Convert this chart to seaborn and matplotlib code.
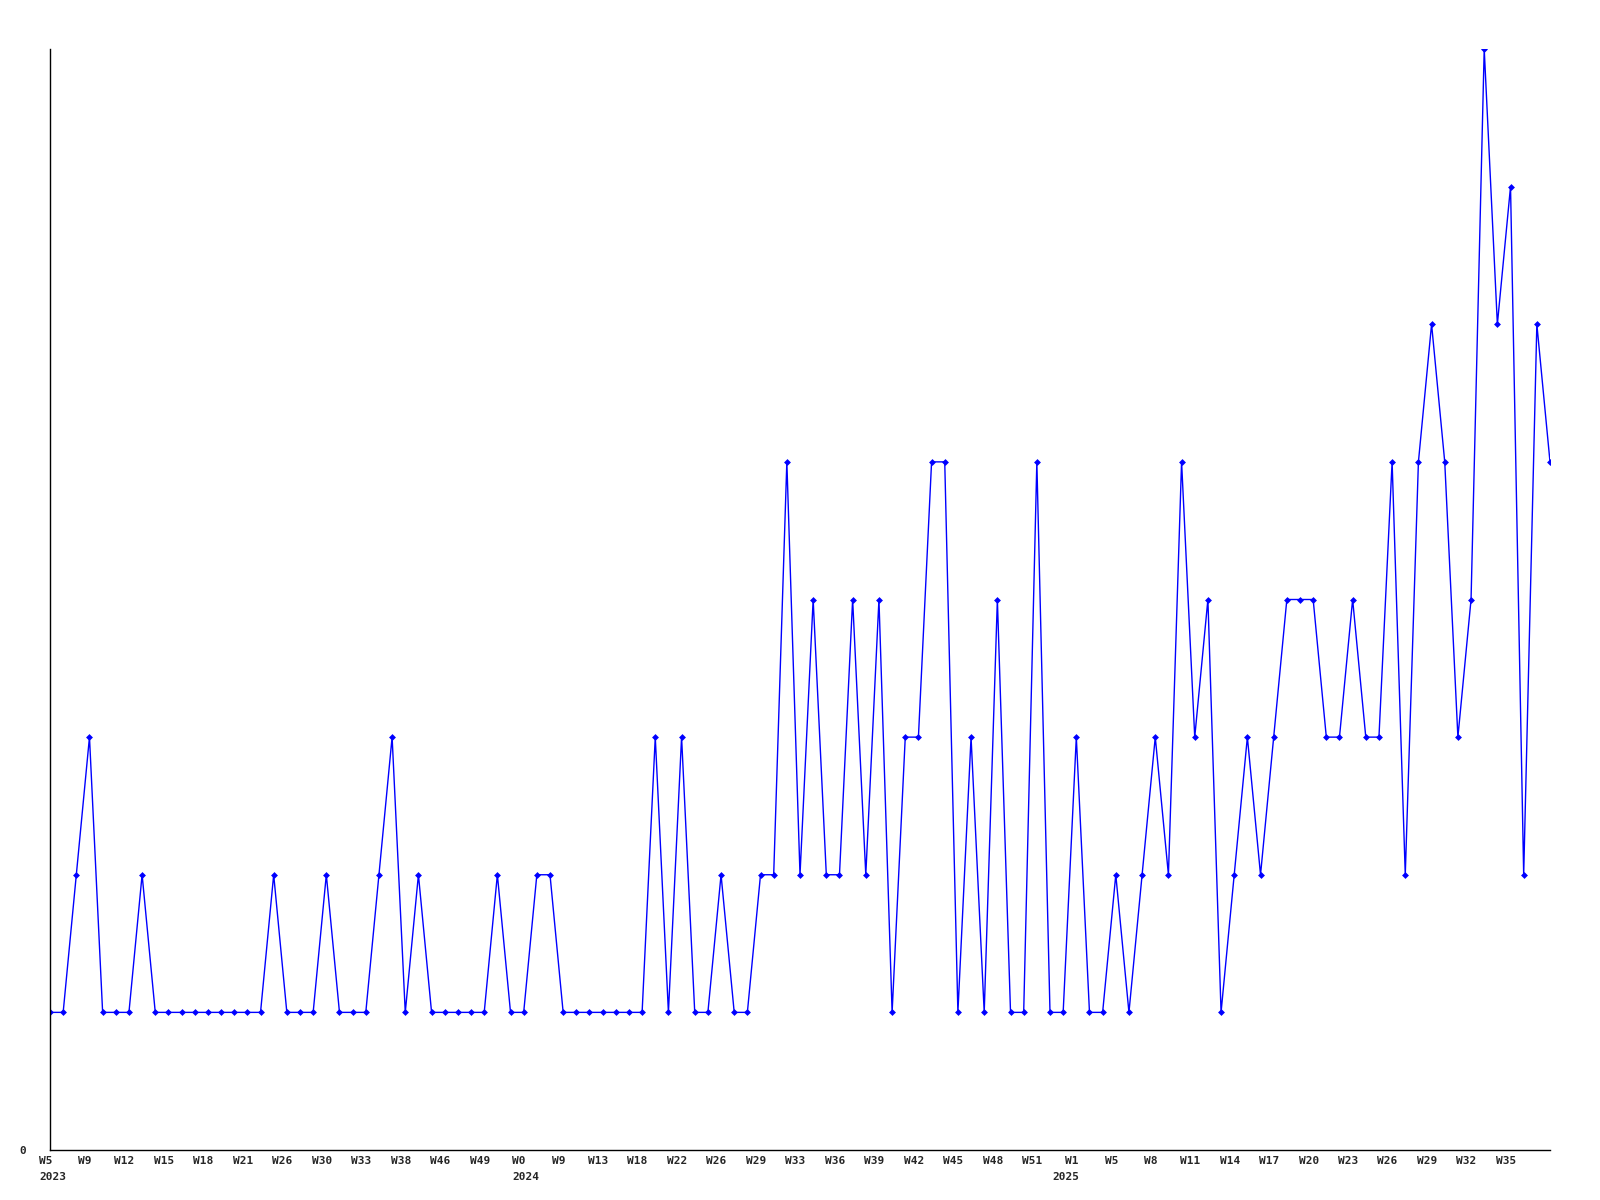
import numpy as np
import pandas as pd
import matplotlib
matplotlib.use('Agg')
import matplotlib.pyplot as plt
import matplotlib.transforms as mtransforms
import seaborn as sns

# weekly counts (one point per reported week)
counts = [1, 1, 2, 3, 1, 1, 1, 2, 1, 1, 1, 1, 1, 1, 1, 1, 1, 2, 1, 1,
          1, 2, 1, 1, 1, 2, 3, 1, 2, 1, 1, 1, 1, 1, 2, 1, 1, 2, 2, 1,
          1, 1, 1, 1, 1, 1, 3, 1, 3, 1, 1, 2, 1, 1, 2, 2, 5, 2, 4, 2,
          2, 4, 2, 4, 1, 3, 3, 5, 5, 1, 3, 1, 4, 1, 1, 5, 1, 1, 3, 1,
          1, 2, 1, 2, 3, 2, 5, 3, 4, 1, 2, 3, 2, 3, 4, 4, 4, 3, 3, 4,
          3, 3, 5, 2, 5, 6, 5, 3, 4, 8, 6, 7, 2, 6, 5]

# tick labels, one every third point
week_labels = ['W5', 'W9', 'W12', 'W15', 'W18', 'W21', 'W26', 'W30', 'W33',
               'W38', 'W46', 'W49', 'W0', 'W9', 'W13', 'W18', 'W22', 'W26',
               'W29', 'W33', 'W36', 'W39', 'W42', 'W45', 'W48', 'W51', 'W1',
               'W5', 'W8', 'W11', 'W14', 'W17', 'W20', 'W23', 'W26', 'W29',
               'W32', 'W35']

# first point of each year
years = ['2023', '2024', '2025']
year_start = [0, 36, 77]

df = pd.DataFrame({'idx': np.arange(len(counts)), 'count': counts})

sns.set_style('white')
plt.rcParams['font.family'] = ['DejaVu Sans Mono']

fig = plt.figure(figsize=(16, 12), dpi=100)
ax = fig.add_axes([50 / 1600, 50 / 1200, 1500 / 1600, 1101 / 1200])

sns.lineplot(data=df, x='idx', y='count', ax=ax, color='#0000ff',
             linewidth=1, marker='D', markersize=3.5, markeredgewidth=0)

ax.set_xlim(0, len(counts) - 1)
ax.set_ylim(0, 8)
ax.set_xlabel('')
ax.set_ylabel('')

ax.set_yticks([0])
ax.set_yticklabels(['0'], fontsize=8, fontweight='bold')
ax.set_xticks(np.arange(0, 3 * len(week_labels), 3))
ax.set_xticklabels(week_labels, fontsize=8, fontweight='bold')
ax.tick_params(axis='x', length=0, pad=4)
ax.tick_params(axis='y', length=0, pad=17)

# nudge week labels a little to the left
shift = mtransforms.ScaledTranslation(-4.5 / 100, 0, fig.dpi_scale_trans)
for lbl in ax.get_xticklabels():
    lbl.set_transform(lbl.get_transform() + shift)

for yr, pos in zip(years, year_start):
    ax.annotate(yr, xy=(pos, 0), xycoords=('data', 'axes fraction'),
                xytext=(1.8, -19.5), textcoords='offset points',
                ha='center', va='center', fontsize=8, fontweight='bold')

for side in ['top', 'right']:
    ax.spines[side].set_visible(False)
for side in ['left', 'bottom']:
    ax.spines[side].set_color('black')
    ax.spines[side].set_linewidth(1)

plt.savefig('out.png', dpi=100, facecolor='white')
plt.close()
